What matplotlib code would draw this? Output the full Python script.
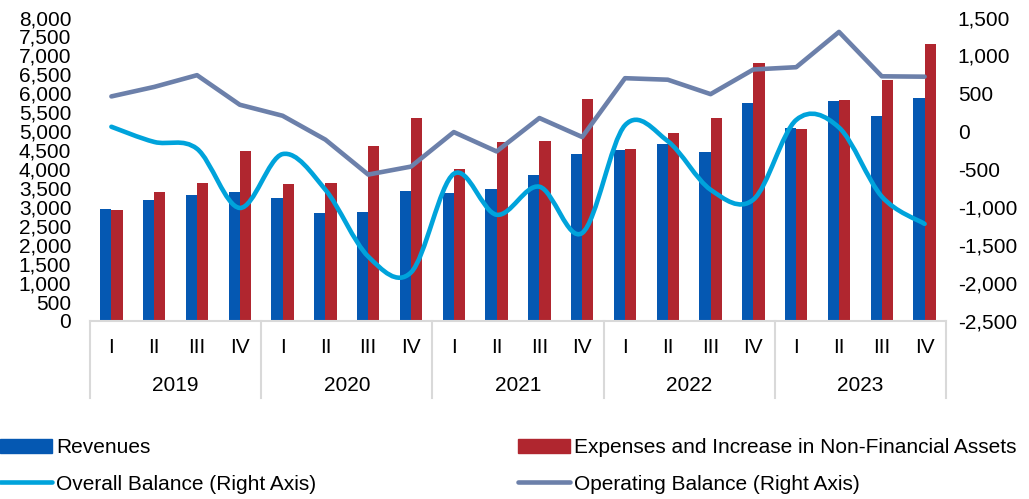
import matplotlib.pyplot as plt
import numpy as np
from matplotlib.path import Path
from matplotlib.patches import PathPatch, Patch
from matplotlib.lines import Line2D
from matplotlib.ticker import FuncFormatter

plt.rcParams["font.family"] = ["Liberation Sans", "DejaVu Sans"]

years = ["2019", "2020", "2021", "2022", "2023"]
quarters = ["I", "II", "III", "IV"]

revenues = [2950, 3200, 3330, 3400, 3230, 2840, 2880, 3430, 3370, 3490,
            3860, 4400, 4500, 4670, 4460, 5750, 5080, 5810, 5400, 5880]
expenses = [2930, 3390, 3640, 4490, 3620, 3640, 4620, 5350, 4000, 4730,
            4740, 5850, 4540, 4950, 5360, 6790, 5060, 5830, 6340, 7310]
overall_balance = [60, -140, -230, -1010, -300, -770, -1650, -1860, -560, -1100,
                   -730, -1340, 80, -130, -770, -900, 150, 50, -860, -1220]
operating_balance = [460, 585, 740, 350, 205, -110, -570, -465, -10, -265,
                     175, -75, 700, 680, 490, 815, 845, 1310, 725, 720]

BLUE = "#0558B2"
RED = "#B0262F"
CYAN = "#00A3DB"
GREY = "#6C80AA"
SEP = "#D9D9D9"
FS = 15


def smooth_path(x, y):
    """Excel-style smoothed line as cubic Bezier segments."""
    pts = np.column_stack([x, y]).astype(float)
    verts = [pts[0]]
    codes = [Path.MOVETO]
    n = len(pts)
    for i in range(n - 1):
        p0 = pts[max(i - 1, 0)]
        p1 = pts[i]
        p2 = pts[i + 1]
        p3 = pts[min(i + 2, n - 1)]
        c1 = p1 + (p2 - p0) / 6.0
        c2 = p2 - (p3 - p1) / 6.0
        verts += [c1, c2, p2]
        codes += [Path.CURVE4] * 3
    return Path(verts, codes)


fig = plt.figure(figsize=(10.29, 4.99), dpi=100)
ax = fig.add_axes([90 / 1029, 1 - 321 / 499, 856 / 1029, 303.5 / 499])
ax2 = ax.twinx()

x = np.arange(len(revenues))
w = 0.26

ax.bar(x - w / 2, revenues, width=w, color=BLUE, zorder=2)
ax.bar(x + w / 2, expenses, width=w, color=RED, zorder=2)

ax2.add_patch(PathPatch(smooth_path(x, overall_balance), fill=False,
                        edgecolor=CYAN, linewidth=3.3, capstyle="round",
                        joinstyle="round"))
ax2.plot(x, operating_balance, color=GREY, linewidth=3.3,
         solid_capstyle="round", solid_joinstyle="round")

ax.set_xlim(-0.5, len(revenues) - 0.5)
ax.set_ylim(0, 8000)
ax.set_yticks(np.arange(0, 8001, 500))
ax2.set_ylim(-2500, 1500)
ax2.set_yticks(np.arange(-2500, 1501, 500))

fmt = FuncFormatter(lambda v, p: f"{int(v):,}")
ax.yaxis.set_major_formatter(fmt)
ax2.yaxis.set_major_formatter(fmt)

ax.tick_params(axis="y", length=0, pad=13.5, labelsize=FS)
ax2.tick_params(axis="y", length=0, pad=8.5, labelsize=FS)
ax.set_xticks([])

for a in (ax, ax2):
    for side in ("left", "right", "top"):
        a.spines[side].set_visible(False)
ax.spines["bottom"].set_color(SEP)
ax.spines["bottom"].set_linewidth(1.5)
ax2.spines["bottom"].set_visible(False)

# two-level category axis
trans = ax.get_xaxis_transform()
for i in range(len(revenues)):
    ax.text(i, -0.086, quarters[i % 4], transform=trans, ha="center",
            va="center", fontsize=FS)
for k, yr in enumerate(years):
    ax.text(k * 4 + 1.5, -0.213, yr, transform=trans, ha="center",
            va="center", fontsize=FS)
for k in range(len(years) + 1):
    ax.plot([k * 4 - 0.5] * 2, [0, -0.254], transform=trans, color=SEP,
            linewidth=1.5, clip_on=False)

leg_kw = dict(frameon=False, fontsize=FS, borderpad=0, borderaxespad=0,
              handlelength=2.5, handletextpad=0.2, labelspacing=0.82,
              loc="center left")
fig.legend(handles=[Patch(color=BLUE, label="Revenues"),
                    Line2D([], [], color=CYAN, linewidth=3.3,
                           solid_capstyle="round",
                           label="Overall Balance (Right Axis)")],
           bbox_to_anchor=(0 / 1029, 1 - 466 / 499), **leg_kw)
fig.legend(handles=[Patch(color=RED,
                          label="Expenses and Increase in Non-Financial Assets"),
                    Line2D([], [], color=GREY, linewidth=3.3,
                           solid_capstyle="round",
                           label="Operating Balance (Right Axis)")],
           bbox_to_anchor=(518 / 1029, 1 - 466 / 499), **leg_kw)

fig.savefig("out.png", dpi=100)
